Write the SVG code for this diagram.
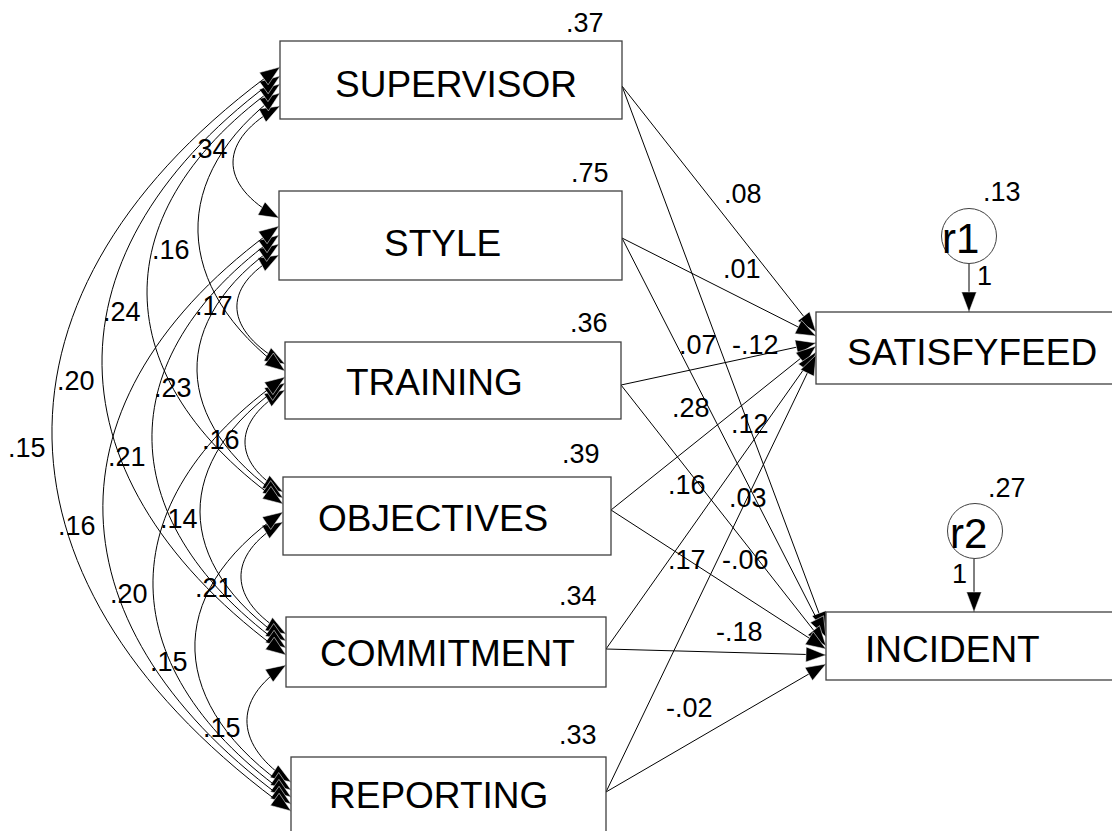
<svg xmlns="http://www.w3.org/2000/svg" width="1112" height="831" viewBox="0 0 1112 831">
  <defs>
    <!-- solid arrowhead, tip sits on the path end; reversed at path start -->
    <marker id="tip" viewBox="-1 -1 22 17" refX="20" refY="7.5" markerWidth="22" markerHeight="17" markerUnits="userSpaceOnUse" orient="auto-start-reverse">
      <path d="M0,0 L20,7.5 L0,15 z" fill="#000" stroke="#fff" stroke-width="0.5"/>
    </marker>
  </defs>
  <style>
    .box{fill:#fff;stroke:#404040;stroke-width:1.3}
    .err{fill:#fff;stroke:#404040;stroke-width:1}
    .name{font-family:"Liberation Sans",Arial,sans-serif;font-size:37px;fill:#000}
    .ename{font-family:"Liberation Sans",Arial,sans-serif;font-size:42px;fill:#000}
    .val{font-family:"Liberation Sans",Arial,sans-serif;font-size:27px;fill:#000}
    .reg{fill:none;stroke:#000;stroke-width:1;marker-end:url(#tip)}
    .cov{fill:none;stroke:#000;stroke-width:1;marker-start:url(#tip);marker-end:url(#tip)}
  </style>
  <rect width="1112" height="831" fill="#fff"/>

  <g id="connectors">
    <!-- covariances between the six predictors -->
    <path class="cov" d="M280,106 C218,139.6 217,184.4 279,218"/>
    <path class="cov" d="M279,255 C219,287.7 225,331.3 285,364"/>
    <path class="cov" d="M285,390 C233,420.6 231,461.4 283,492"/>
    <path class="cov" d="M283,522 C225,555.6 228,600.4 286,634"/>
    <path class="cov" d="M286,665 C230.7,700.1 235.7,746.9 291,782"/>
    <path class="cov" d="M280,93 C167.3,176.4 172.3,287.6 285,371"/>
    <path class="cov" d="M279,244 C167,320.2 171,421.8 283,498"/>
    <path class="cov" d="M285,383 C171,460.4 172,563.6 286,641"/>
    <path class="cov" d="M283,512 C160.3,595.4 168.3,706.6 291,790"/>
    <path class="cov" d="M280,84 C100.7,210 103.7,378 283,504"/>
    <path class="cov" d="M279,235 C105,358.9 112,524.1 286,648"/>
    <path class="cov" d="M285,377 C105,503 111,671 291,797"/>
    <path class="cov" d="M280,76 C38.7,249.7 44.7,481.3 286,655"/>
    <path class="cov" d="M279,226 C36.3,399.4 48.3,630.6 291,804"/>
    <path class="cov" d="M280,67 C-31.3,290.2 -20.3,587.8 291,811"/>

    <!-- regression paths -->
    <path class="reg" d="M622,86 L816,332"/>
    <path class="reg" d="M622,86 L826,632"/>
    <path class="reg" d="M622,238 L816,336"/>
    <path class="reg" d="M622,238 L826,637"/>
    <path class="reg" d="M621,385 L816,343"/>
    <path class="reg" d="M621,385 L826,646"/>
    <path class="reg" d="M611,510 L816,346"/>
    <path class="reg" d="M611,510 L826,649"/>
    <path class="reg" d="M606,649 L816,352"/>
    <path class="reg" d="M606,649 L826,655"/>
    <path class="reg" d="M606,792 L816,355"/>
    <path class="reg" d="M606,792 L826,664"/>

    <!-- residual paths -->
    <path class="reg" d="M969,264 L969,312"/>
    <path class="reg" d="M974,559 L974,612"/>

    <!-- covariance estimates -->
    <text class="val" x="190" y="158">.34</text>
    <text class="val" x="152" y="259">.16</text>
    <text class="val" x="195" y="315">.17</text>
    <text class="val" x="103" y="321">.24</text>
    <text class="val" x="57" y="390">.20</text>
    <text class="val" x="154" y="397">.23</text>
    <text class="val" x="8" y="457">.15</text>
    <text class="val" x="108" y="466">.21</text>
    <text class="val" x="202" y="449">.16</text>
    <text class="val" x="58" y="535">.16</text>
    <text class="val" x="160" y="528">.14</text>
    <text class="val" x="110" y="603">.20</text>
    <text class="val" x="195" y="597">.21</text>
    <text class="val" x="150" y="671">.15</text>
    <text class="val" x="203" y="737">.15</text>

    <!-- regression weights -->
    <text class="val" x="724" y="203">.08</text>
    <text class="val" x="723" y="278">.01</text>
    <text class="val" x="679" y="354">.07</text>
    <text class="val" x="732" y="354">-.12</text>
    <text class="val" x="672" y="417">.28</text>
    <text class="val" x="731" y="433">.12</text>
    <text class="val" x="668" y="494">.16</text>
    <text class="val" x="729" y="507">.03</text>
    <text class="val" x="668" y="569">.17</text>
    <text class="val" x="722" y="569">-.06</text>
    <text class="val" x="716" y="641">-.18</text>
    <text class="val" x="666" y="717">-.02</text>
    <text class="val" x="977" y="285">1</text>
    <text class="val" x="952" y="583">1</text>
  </g>

  <g id="supervisor">
    <rect class="box" x="280" y="41" width="342" height="78"/>
    <text class="name" x="335" y="97">SUPERVISOR</text>
    <text class="val" x="566" y="32">.37</text>
  </g>
  <g id="style">
    <rect class="box" x="279" y="191" width="343" height="89"/>
    <text class="name" x="384" y="256">STYLE</text>
    <text class="val" x="571" y="182">.75</text>
  </g>
  <g id="training">
    <rect class="box" x="285" y="342" width="336" height="77"/>
    <text class="name" x="346" y="395">TRAINING</text>
    <text class="val" x="570" y="332">.36</text>
  </g>
  <g id="objectives">
    <rect class="box" x="283" y="477" width="328" height="78"/>
    <text class="name" x="318" y="531">OBJECTIVES</text>
    <text class="val" x="562" y="463">.39</text>
  </g>
  <g id="commitment">
    <rect class="box" x="286" y="617" width="320" height="70"/>
    <text class="name" x="320" y="666">COMMITMENT</text>
    <text class="val" x="559" y="605">.34</text>
  </g>
  <g id="reporting">
    <rect class="box" x="291" y="757" width="315" height="90"/>
    <text class="name" x="329" y="808">REPORTING</text>
    <text class="val" x="559" y="744">.33</text>
  </g>
  <g id="satisfyfeed">
    <rect class="box" x="816" y="312" width="310" height="72"/>
    <text class="name" x="847" y="365">SATISFYFEED</text>
  </g>
  <g id="incident">
    <rect class="box" x="826" y="612" width="300" height="68"/>
    <text class="name" x="865" y="662">INCIDENT</text>
  </g>
  <g id="r1">
    <circle class="err" cx="969" cy="236" r="27.5"/>
    <text class="ename" x="942" y="253">r1</text>
    <text class="val" x="983" y="201">.13</text>
  </g>
  <g id="r2">
    <circle class="err" cx="975" cy="531" r="27.5"/>
    <text class="ename" x="950" y="548">r2</text>
    <text class="val" x="988" y="497">.27</text>
  </g>
</svg>
